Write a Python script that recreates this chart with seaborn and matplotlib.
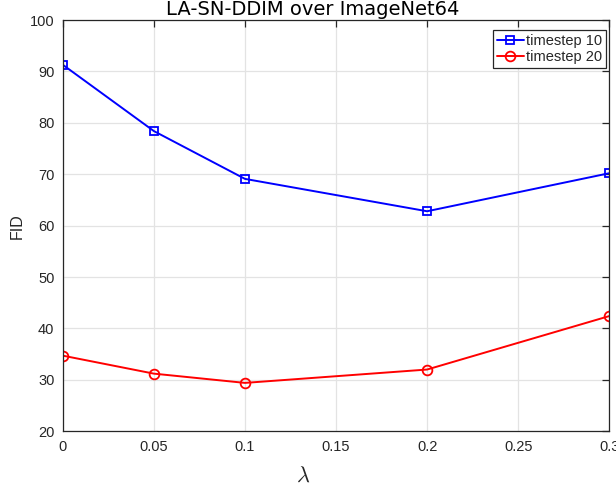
import matplotlib
matplotlib.use("Agg")
import matplotlib.pyplot as plt
import seaborn as sns

# lambda values and FID for each timestep setting
lam = [0, 0.05, 0.1, 0.2, 0.3]
fid_t10 = [91.3, 78.4, 69.1, 62.8, 70.2]
fid_t20 = [34.7, 31.2, 29.4, 32.0, 42.4]
xticks = [0, 0.05, 0.1, 0.15, 0.2, 0.25, 0.3]
xtick_labels = ['0', '0.05', '0.1', '0.15', '0.2', '0.25', '0.3']
yticks = [20, 30, 40, 50, 60, 70, 80, 90, 100]

sns.set_style("white")
plt.rcParams['font.family'] = ['Liberation Sans', 'DejaVu Sans']
plt.rcParams['mathtext.fontset'] = 'cm'

fig = plt.figure(figsize=(6.16, 4.9), dpi=100)
ax = fig.add_axes([0.102, 0.12, 0.887, 0.839])

sns.lineplot(x=lam, y=fid_t10, ax=ax, color='#0000ff', marker='s', markersize=5.5,
             markerfacecolor='none', markeredgecolor='#0000ff', markeredgewidth=1.3,
             linewidth=1.4, label='timestep 10')
sns.lineplot(x=lam, y=fid_t20, ax=ax, color='#ff0000', marker='o', markersize=7,
             markerfacecolor='none', markeredgecolor='#ff0000', markeredgewidth=1.3,
             linewidth=1.4, label='timestep 20')

ax.set_xlim(0, 0.3)
ax.set_ylim(20, 100)
ax.set_xticks(xticks)
ax.set_xticklabels(xtick_labels)
ax.set_yticks(yticks)

# matlab-like grid and box
ax.grid(True, color='#e3e3e3', linewidth=0.9)
ax.set_axisbelow(True)
for s in ax.spines.values():
    s.set_color('#262626')
    s.set_linewidth(0.9)
ax.tick_params(direction='in', length=5, width=0.9, colors='#262626',
               labelsize=10.5, top=True, right=True, pad=6)

ax.set_xlabel(r'$\lambda$', fontsize=16, color='#262626')
ax.xaxis.set_label_coords(0.44, -0.083)
ax.set_ylabel('FID', fontsize=11.5, color='#262626')
ax.yaxis.set_label_coords(-0.07, 0.5)

# title sits slightly left of the axes centre and is clipped at the top edge
fig.text(313 / 616, 1 - 15 / 490, 'LA-SN-DDIM over ImageNet64', fontsize=14,
         family='DejaVu Sans', ha='center', va='baseline', color='#000000')

leg = ax.legend(loc='upper right', bbox_to_anchor=(0.9945, 0.9757), fontsize=10.5,
                fancybox=False, framealpha=1, edgecolor='#262626', borderpad=0.25,
                labelspacing=0.15, handlelength=1.85, handletextpad=0.17,
                borderaxespad=0)
leg.get_frame().set_linewidth(0.9)

fig.savefig('out.png', dpi=100)
